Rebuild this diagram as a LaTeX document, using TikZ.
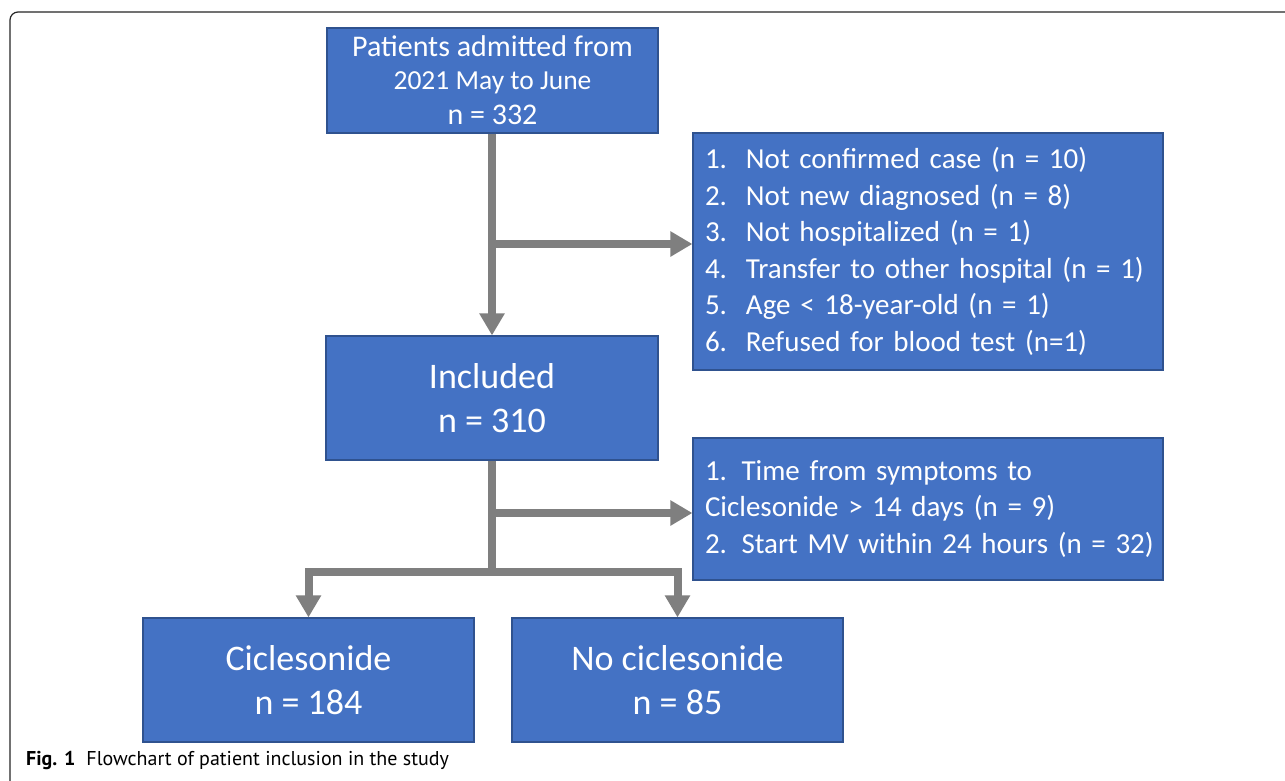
\documentclass[tikz,border=0pt]{standalone}
\usepackage{fontspec}
\setmainfont{Carlito}
\newfontfamily\capfont{PT Sans}
\usetikzlibrary{arrows.meta}
\definecolor{boxblue}{HTML}{4472C4}
\definecolor{boxedge}{HTML}{2F528F}
\definecolor{arrgray}{HTML}{7F7F7F}
\newcommand{\itm}[1]{\hspace*{12pt}\makebox[41pt][l]{#1}}
\newcommand{\lin}{\hspace*{12pt}}
\begin{document}
\begin{tikzpicture}[x=1pt,y=-1pt,
  box/.style={draw=boxedge, line width=1.2pt, fill=boxblue, text=white, inner sep=0pt, align=center},
  listbox/.style={box, align=left, inner xsep=0pt, text width=470pt, minimum height=#1,
    font=\fontsize{29}{36.5}\selectfont},
  conn/.style={draw=arrgray, line width=8pt},
  arr/.style={conn, -{Triangle[width=24pt,length=22pt]}},
  tarr/.style={conn, {Triangle[width=24pt,length=22pt]}-{Triangle[width=24pt,length=22pt]}},
  ]
\useasboundingbox (0,0) rectangle (1285,780);
\fill[white] (0,0) rectangle (1285,780);
\draw[line width=1.2pt, black!85, rounded corners=8pt] (10,790) -- (10,12) -- (1295,12);

\node[box, minimum width=331pt, minimum height=105pt, font=\fontsize{30}{33}\selectfont] (top) at (492.5,80.5)
  {Patients admitted from\\
   {\fontsize{27.5}{33}\selectfont 2021 May to June}\\[2pt]
   n = 332};
\node[listbox=237pt] (ex1) at (928,251.5)
  {\itm{1.}Not confirmed case (n = 10)\\
   \itm{2.}Not new diagnosed (n = 8)\\
   \itm{3.}Not hospitalized (n = 1)\\
   \itm{4.}Transfer to other hospital (n = 1)\\
   \itm{5.}Age < 18-year-old (n = 1)\\
   \itm{6.}Refused for blood test (n=1)};
\node[box, minimum width=332pt, minimum height=124pt, font=\fontsize{36}{44}\selectfont] (incl) at (492,398)
  {Included\\ n = 310};
\node[listbox=142pt] (ex2) at (928,509)
  {\lin 1. Time from symptoms to\\
   \lin Ciclesonide > 14 days (n = 9)\\
   \lin 2. Start MV within 24 hours (n = 32)};
\node[box, minimum width=331pt, minimum height=124pt, font=\fontsize{36}{44}\selectfont] (cic) at (308.5,680)
  {Ciclesonide\\ n = 184};
\node[box, minimum width=331pt, minimum height=124pt, font=\fontsize{36}{44}\selectfont] (nocic) at (677.5,680)
  {No ciclesonide\\ n = 85};

\coordinate (b1) at (492,244);
\coordinate (b2) at (492,513);
\coordinate (split) at (492,572);
\draw[arr] (top.south -| b1) -- (incl.north -| b1);
\draw[arr] (b1) -- (b1 -| ex1.west);
\draw[conn] (incl.south -| b2) -- (split);
\draw[arr] (b2) -- (b2 -| ex2.west);
\draw[tarr] (cic.north) -- (cic.north |- split) -- (nocic.north |- split) -- (nocic.north);

\node[anchor=base west, inner sep=0pt, font=\capfont\fontsize{20}{24}\selectfont] (cap) at (26,765)
  {\textbf{Fig. 1}\hspace{11pt}Flowchart of patient inclusion in the study};
\end{tikzpicture}
\end{document}
